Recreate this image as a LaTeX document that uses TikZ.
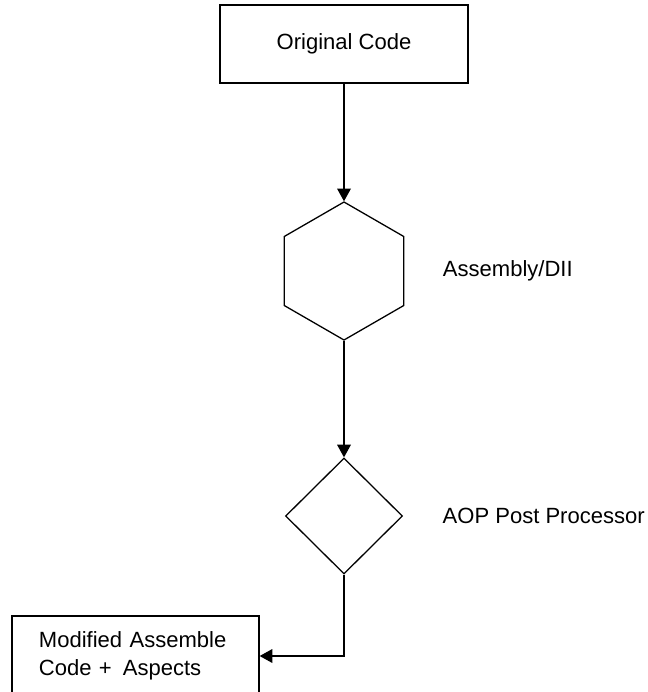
\documentclass[tikz,border=0pt]{standalone}
\usepackage{fontspec}
\setmainfont{Liberation Sans}
\usetikzlibrary{positioning,shapes.geometric,arrows.meta}

\begin{document}
\begin{tikzpicture}[x=0.03cm,y=-0.03cm,
  line width=1.1pt,
  font=\fontsize{18.8}{23.8}\selectfont,
  box/.style={draw,rectangle,inner sep=0pt},
  arr/.style={-{Triangle[length=3.8mm,width=4.1mm]}}]

\useasboundingbox (0,0) rectangle (648,692);

\node[box,minimum width=7.44cm,minimum height=2.34cm] (orig) at (344,44) {Original Code};
\node[draw,regular polygon,regular polygon sides=6,shape border rotate=30,minimum size=4.14cm,inner sep=0pt] (asm) at (344,271) {};
\node[draw,diamond,minimum width=3.51cm,minimum height=3.48cm,inner sep=0pt] (post) at (344,516) {};
\node[box,minimum width=7.41cm,minimum height=2.4cm,text width=5.79cm,align=left] (modified) at (135.5,656) {Modified Assemble\\Code + \,Aspects};

\node[right=1.02cm of asm.east,anchor=west] (asmlabel) {Assembly/DII};
\node[right=1.05cm of post.east,anchor=west] (postlabel) {AOP Post Processor};

\draw[arr] (orig) -- (asm);
\draw[arr] (asm) -- (post);
\draw[arr] (post.south) |- (modified.east);

\end{tikzpicture}
\end{document}
